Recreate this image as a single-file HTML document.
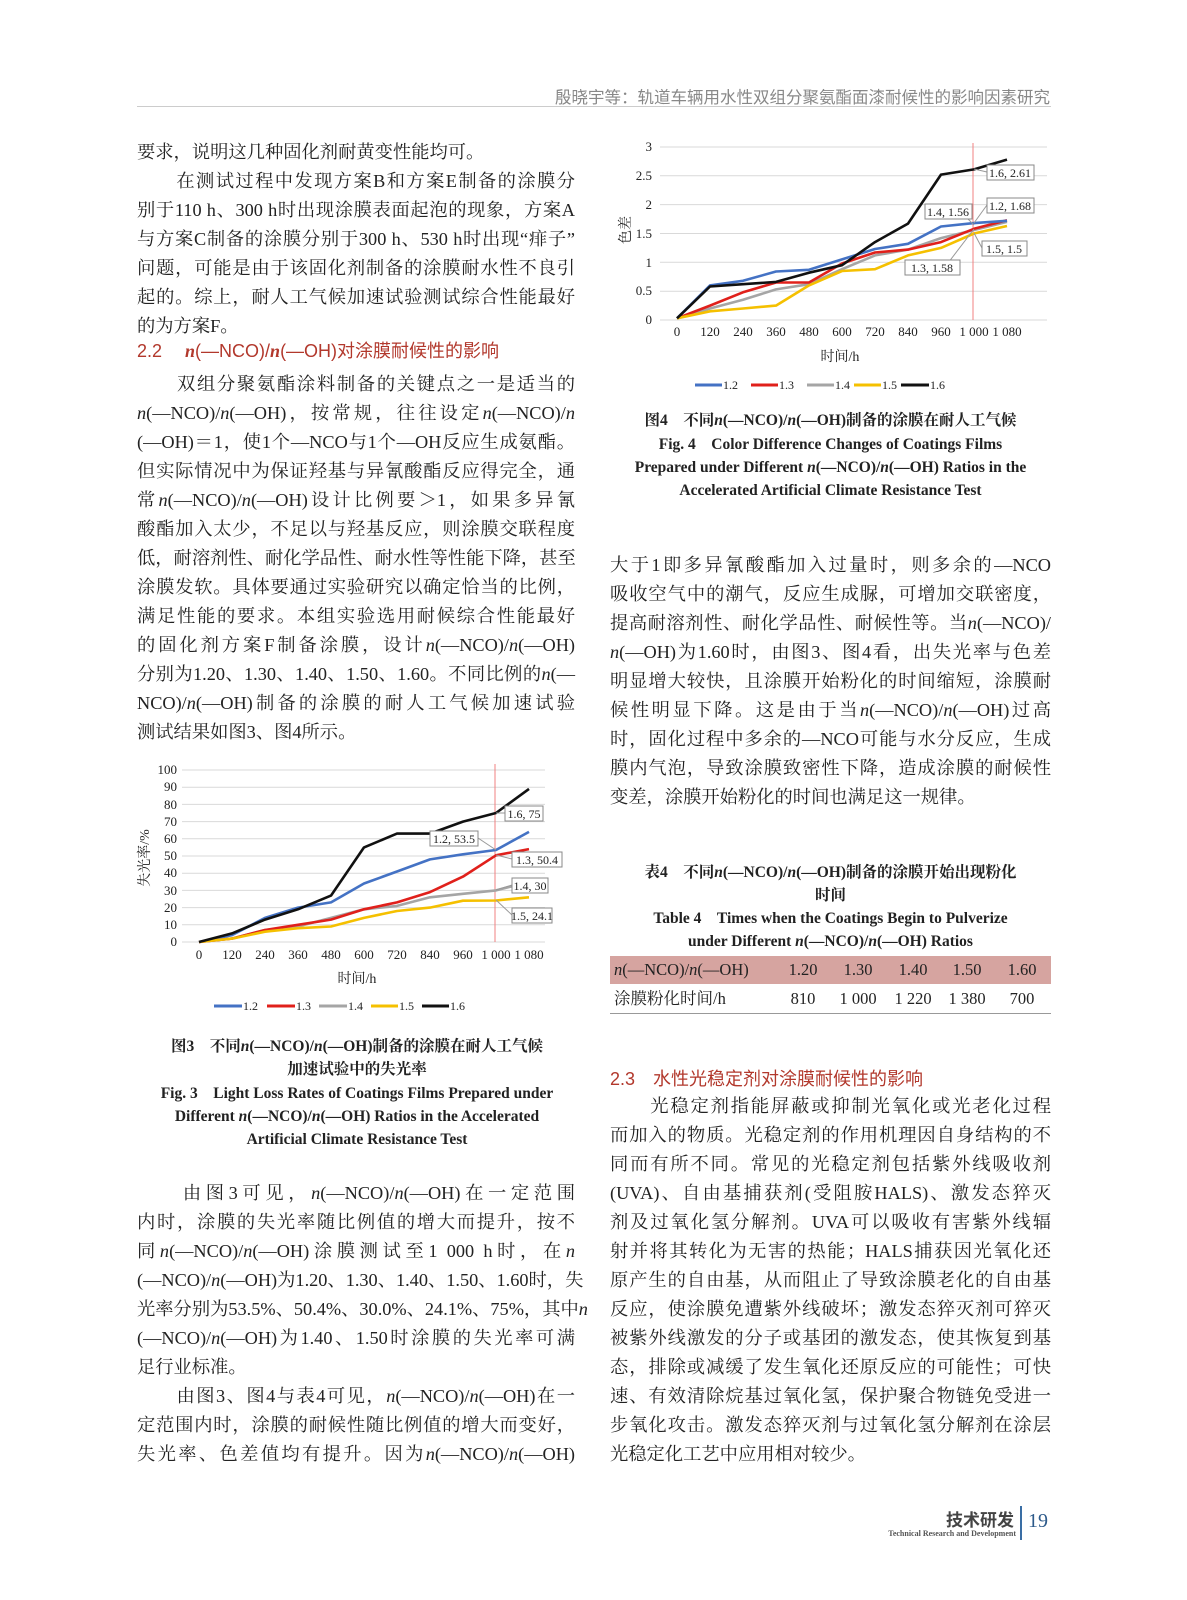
<!DOCTYPE html>
<html><head><meta charset="utf-8">
<style>
html,body{margin:0;padding:0;background:#fff;}
body{width:1187px;height:1600px;position:relative;overflow:hidden;font-family:"Liberation Serif","Noto Serif CJK SC",serif;color:#222;}
.l{position:absolute;height:29px;line-height:29px;font-size:18.3px;white-space:nowrap;text-align:justify;text-align-last:justify;}
.e{text-align-last:left;}
.L{left:137px;width:438px;}
.R{left:610px;width:441px;}
.h{position:absolute;font-family:"Liberation Sans","Noto Sans CJK SC",sans-serif;color:#b2382c;font-size:18px;white-space:nowrap;}
.cap{position:absolute;text-align:center;font-weight:bold;font-size:15.5px;white-space:nowrap;line-height:23px;}
i{font-style:italic;}
svg text{font-family:"Liberation Serif","Noto Serif CJK SC",serif;}
</style></head><body>
<div style="position:absolute;right:137px;top:84px;font-family:'Liberation Sans','Noto Sans CJK SC',sans-serif;font-size:16.5px;color:#888;">殷晓宇等：轨道车辆用水性双组分聚氨酯面漆耐候性的影响因素研究</div>
<div style="position:absolute;left:137px;top:106px;width:914px;height:1px;background:#ccc;"></div>

<!-- left column block 1 -->
<div class="l L e" style="top:138px">要求，说明这几种固化剂耐黄变性能均可。</div>
<div class="l L" style="top:167px">　　在测试过程中发现方案B和方案E制备的涂膜分</div>
<div class="l L" style="top:196px">别于110 h、300 h时出现涂膜表面起泡的现象，方案A</div>
<div class="l L" style="top:225px">与方案C制备的涂膜分别于300 h、530 h时出现“痱子”</div>
<div class="l L" style="top:254px">问题，可能是由于该固化剂制备的涂膜耐水性不良引</div>
<div class="l L" style="top:283px">起的。综上，耐人工气候加速试验测试综合性能最好</div>
<div class="l L e" style="top:312px">的为方案F。</div>
<div class="h" style="left:137px;top:337px;">2.2　 <b><i style="font-family:'Liberation Serif',serif">n</i></b>(—NCO)/<b><i style="font-family:'Liberation Serif',serif">n</i></b>(—OH)对涂膜耐候性的影响</div>
<div class="l L" style="top:370px">　　双组分聚氨酯涂料制备的关键点之一是适当的</div>
<div class="l L" style="top:399px"><i>n</i>(—NCO)/<i>n</i>(—OH)，按常规，往往设定<i>n</i>(—NCO)/<i>n</i></div>
<div class="l L" style="top:428px">(—OH)＝1，使1个—NCO与1个—OH反应生成氨酯。</div>
<div class="l L" style="top:457px">但实际情况中为保证羟基与异氰酸酯反应得完全，通</div>
<div class="l L" style="top:486px">常<i>n</i>(—NCO)/<i>n</i>(—OH)设计比例要＞1，如果多异氰</div>
<div class="l L" style="top:515px">酸酯加入太少，不足以与羟基反应，则涂膜交联程度</div>
<div class="l L" style="top:544px">低，耐溶剂性、耐化学品性、耐水性等性能下降，甚至</div>
<div class="l L" style="top:573px">涂膜发软。具体要通过实验研究以确定恰当的比例，</div>
<div class="l L" style="top:602px">满足性能的要求。本组实验选用耐候综合性能最好</div>
<div class="l L" style="top:631px">的固化剂方案F制备涂膜，设计<i>n</i>(—NCO)/<i>n</i>(—OH)</div>
<div class="l L" style="top:660px">分别为1.20、1.30、1.40、1.50、1.60。不同比例的<i>n</i>(—</div>
<div class="l L" style="top:689px">NCO)/<i>n</i>(—OH)制备的涂膜的耐人工气候加速试验</div>
<div class="l L e" style="top:718px">测试结果如图3、图4所示。</div>

<svg style="position:absolute;left:0;top:0" width="1187" height="1600" viewBox="0 0 1187 1600">
<!-- chart1 -->
<g stroke="#d9d9d9" stroke-width="1">
<line x1="182" y1="942" x2="545" y2="942"/><line x1="182" y1="924.8" x2="545" y2="924.8"/><line x1="182" y1="907.6" x2="545" y2="907.6"/><line x1="182" y1="890.4" x2="545" y2="890.4"/><line x1="182" y1="873.2" x2="545" y2="873.2"/><line x1="182" y1="856" x2="545" y2="856"/><line x1="182" y1="838.8" x2="545" y2="838.8"/><line x1="182" y1="821.6" x2="545" y2="821.6"/><line x1="182" y1="804.4" x2="545" y2="804.4"/><line x1="182" y1="787.2" x2="545" y2="787.2"/><line x1="182" y1="770" x2="545" y2="770"/>
</g>
<g font-size="13" text-anchor="end" fill="#222">
<text x="177" y="946">0</text><text x="177" y="929">10</text><text x="177" y="912">20</text><text x="177" y="895">30</text><text x="177" y="877">40</text><text x="177" y="860">50</text><text x="177" y="843">60</text><text x="177" y="826">70</text><text x="177" y="809">80</text><text x="177" y="791">90</text><text x="177" y="774">100</text>
</g>
<g font-size="13" text-anchor="middle" fill="#222">
<text x="199" y="959">0</text><text x="232" y="959">120</text><text x="265" y="959">240</text><text x="298" y="959">360</text><text x="331" y="959">480</text><text x="364" y="959">600</text><text x="397" y="959">720</text><text x="430" y="959">840</text><text x="463" y="959">960</text><text x="496" y="959">1 000</text><text x="529" y="959">1 080</text>
<text x="357" y="983" font-size="14">时间/h</text>
</g>
<text transform="translate(149,858) rotate(-90)" font-size="14" text-anchor="middle" fill="#222">失光率/%</text>
<line x1="495" y1="764" x2="495" y2="942" stroke="#f08080" stroke-width="1"/>
<g fill="none" stroke-width="2.6" stroke-linejoin="round">
<polyline stroke="#4472c4" points="199,942 232,935.1 265,917.9 298,907.6 331,902.4 364,883.5 397,871.5 430,859.4 463,854.3 496,850 529,831.9"/>
<polyline stroke="#a5a5a5" points="199,942 232,938.6 265,930 298,926.5 331,917.9 364,909.3 397,905.9 430,897.3 463,893.8 496,890.4 529,881.8"/>
<polyline stroke="#e0201b" points="199,942 232,938.6 265,930 298,924.8 331,919.6 364,909.3 397,902.4 430,892.1 463,876.6 496,855.3 529,849.1"/>
<polyline stroke="#f5c000" points="199,942 232,938.6 265,931.7 298,928.2 331,926.5 364,917.9 397,911 430,907.6 463,900.7 496,900.5 529,897.3"/>
<polyline stroke="#111" points="199,942 232,933.4 265,919.6 298,909.3 331,895.6 364,847.4 397,833.6 430,833.6 463,821.6 496,813 529,788.9"/>
</g>
<g stroke="#999" stroke-width="1" fill="none">
<line x1="496" y1="813" x2="505" y2="813"/><line x1="478" y1="838" x2="496" y2="850"/><line x1="496" y1="855" x2="512" y2="859"/><line x1="496" y1="890" x2="512" y2="885"/><line x1="496" y1="900" x2="512" y2="915"/>
</g>
<g stroke="#888" stroke-width="1" fill="#fff">
<rect x="505" y="806" width="38" height="15"/><rect x="430" y="831" width="48" height="15"/><rect x="512" y="852" width="50" height="15"/><rect x="512" y="878" width="36" height="15"/><rect x="512" y="908" width="40" height="15"/>
</g>
<g font-size="12" fill="#222" text-anchor="middle">
<text x="524" y="818">1.6, 75</text><text x="454" y="843">1.2, 53.5</text><text x="537" y="864">1.3, 50.4</text><text x="530" y="890">1.4, 30</text><text x="532" y="920">1.5, 24.1</text>
</g>
<g stroke-width="3">
<line x1="214" y1="1006" x2="242" y2="1006" stroke="#4472c4"/><line x1="267" y1="1006" x2="295" y2="1006" stroke="#e0201b"/><line x1="319" y1="1006" x2="347" y2="1006" stroke="#a5a5a5"/><line x1="371" y1="1006" x2="398" y2="1006" stroke="#f5c000"/><line x1="422" y1="1006" x2="449" y2="1006" stroke="#111"/>
</g>
<g font-size="12" fill="#222">
<text x="243" y="1010">1.2</text><text x="296" y="1010">1.3</text><text x="348" y="1010">1.4</text><text x="399" y="1010">1.5</text><text x="450" y="1010">1.6</text>
</g>

<!-- chart2 -->
<g stroke="#d9d9d9" stroke-width="1">
<line x1="660" y1="320" x2="1047" y2="320"/><line x1="660" y1="291.2" x2="1047" y2="291.2"/><line x1="660" y1="262.3" x2="1047" y2="262.3"/><line x1="660" y1="233.5" x2="1047" y2="233.5"/><line x1="660" y1="204.6" x2="1047" y2="204.6"/><line x1="660" y1="175.8" x2="1047" y2="175.8"/><line x1="660" y1="147" x2="1047" y2="147"/>
</g>
<g font-size="13" text-anchor="end" fill="#222">
<text x="652" y="324">0</text><text x="652" y="295">0.5</text><text x="652" y="267">1</text><text x="652" y="238">1.5</text><text x="652" y="209">2</text><text x="652" y="180">2.5</text><text x="652" y="151">3</text>
</g>
<g font-size="13" text-anchor="middle" fill="#222">
<text x="677" y="336">0</text><text x="710" y="336">120</text><text x="743" y="336">240</text><text x="776" y="336">360</text><text x="809" y="336">480</text><text x="842" y="336">600</text><text x="875" y="336">720</text><text x="908" y="336">840</text><text x="941" y="336">960</text><text x="974" y="336">1 000</text><text x="1007" y="336">1 080</text>
<text x="840" y="361" font-size="14">时间/h</text>
</g>
<text transform="translate(630,230) rotate(-90)" font-size="14" text-anchor="middle" fill="#222">色差</text>
<line x1="973" y1="143" x2="973" y2="320" stroke="#f08080" stroke-width="1"/>
<g fill="none" stroke-width="2.6" stroke-linejoin="round">
<polyline stroke="#a5a5a5" points="677,318.3 710,308.5 743,299.8 776,289.4 809,284.2 842,269.2 875,255.4 908,249.6 941,238.1 974,230 1007,221.9"/>
<polyline stroke="#e0201b" points="677,318.3 710,305.6 743,292.3 776,282.5 809,282.5 842,263.5 875,252.5 908,249.6 941,242.1 974,228.8 1007,220.2"/>
<polyline stroke="#4472c4" points="677,318.3 710,285.4 743,280.8 776,271.5 809,269.8 842,259.4 875,249 908,243.8 941,226.5 974,223.1 1007,220.8"/>
<polyline stroke="#f5c000" points="677,318.3 710,311.3 743,308.5 776,305.6 809,285.4 842,271 875,269.2 908,255.4 941,247.9 974,233.5 1007,226"/>
<polyline stroke="#111" points="677,318.3 710,286.5 743,284.2 776,281.9 809,272.7 842,265.2 875,242.1 908,223.6 941,174.6 974,169.4 1007,159.6"/>
</g>
<g stroke="#999" stroke-width="1" fill="none">
<line x1="974" y1="169" x2="987" y2="172"/><line x1="960" y1="211" x2="974" y2="225"/><line x1="987" y1="205" x2="974" y2="223"/><line x1="974" y1="233" x2="982" y2="248"/><line x1="974" y1="229" x2="945" y2="267"/>
</g>
<g stroke="#888" stroke-width="1" fill="#fff">
<rect x="987" y="165" width="47" height="15"/><rect x="925" y="204" width="47" height="15"/><rect x="987" y="198" width="47" height="15"/><rect x="982" y="241" width="45" height="15"/><rect x="905" y="260" width="55" height="15"/>
</g>
<g font-size="12" fill="#222" text-anchor="middle">
<text x="1010" y="177">1.6, 2.61</text><text x="948" y="216">1.4, 1.56</text><text x="1010" y="210">1.2, 1.68</text><text x="1004" y="253">1.5, 1.5</text><text x="932" y="272">1.3, 1.58</text>
</g>
<g stroke-width="3">
<line x1="695" y1="385" x2="722" y2="385" stroke="#4472c4"/><line x1="751" y1="385" x2="778" y2="385" stroke="#e0201b"/><line x1="807" y1="385" x2="834" y2="385" stroke="#a5a5a5"/><line x1="854" y1="385" x2="881" y2="385" stroke="#f5c000"/><line x1="901" y1="385" x2="929" y2="385" stroke="#111"/>
</g>
<g font-size="12" fill="#222">
<text x="723" y="389">1.2</text><text x="779" y="389">1.3</text><text x="835" y="389">1.4</text><text x="882" y="389">1.5</text><text x="930" y="389">1.6</text>
</g>

<!-- footer bar -->
<line x1="1021" y1="1506" x2="1021" y2="1540" stroke="#3a6ea5" stroke-width="2"/>
</svg>

<!-- fig3 caption -->
<div class="cap" style="left:137px;width:440px;top:1035px">图3　不同<i>n</i>(—NCO)/<i>n</i>(—OH)制备的涂膜在耐人工气候<br>加速试验中的失光率</div>
<div class="cap" style="left:137px;width:440px;top:1082px">Fig. 3　Light Loss Rates of Coatings Films Prepared under<br>Different <i>n</i>(—NCO)/<i>n</i>(—OH) Ratios in the Accelerated<br>Artificial Climate Resistance Test</div>

<!-- left block 2 -->
<div class="l L" style="top:1179px">　　由图3可见，<i>n</i>(—NCO)/<i>n</i>(—OH)在一定范围</div>
<div class="l L" style="top:1208px">内时，涂膜的失光率随比例值的增大而提升，按不</div>
<div class="l L" style="top:1237px">同<i>n</i>(—NCO)/<i>n</i>(—OH)涂膜测试至1 000 h时，在<i>n</i></div>
<div class="l L" style="top:1266px">(—NCO)/<i>n</i>(—OH)为1.20、1.30、1.40、1.50、1.60时，失</div>
<div class="l L" style="top:1295px">光率分别为53.5%、50.4%、30.0%、24.1%、75%，其中<i>n</i></div>
<div class="l L" style="top:1324px">(—NCO)/<i>n</i>(—OH)为1.40、1.50时涂膜的失光率可满</div>
<div class="l L e" style="top:1353px">足行业标准。</div>
<div class="l L" style="top:1382px">　　由图3、图4与表4可见，<i>n</i>(—NCO)/<i>n</i>(—OH)在一</div>
<div class="l L" style="top:1411px">定范围内时，涂膜的耐候性随比例值的增大而变好，</div>
<div class="l L" style="top:1440px">失光率、色差值均有提升。因为<i>n</i>(—NCO)/<i>n</i>(—OH)</div>

<!-- fig4 caption -->
<div class="cap" style="left:610px;width:441px;top:409px">图4　不同<i>n</i>(—NCO)/<i>n</i>(—OH)制备的涂膜在耐人工气候</div>
<div class="cap" style="left:610px;width:441px;top:433px">Fig. 4　Color Difference Changes of Coatings Films<br>Prepared under Different <i>n</i>(—NCO)/<i>n</i>(—OH) Ratios in the<br>Accelerated Artificial Climate Resistance Test</div>

<!-- right block 1 -->
<div class="l R" style="top:551px">大于1即多异氰酸酯加入过量时，则多余的—NCO</div>
<div class="l R" style="top:580px">吸收空气中的潮气，反应生成脲，可增加交联密度，</div>
<div class="l R" style="top:609px">提高耐溶剂性、耐化学品性、耐候性等。当<i>n</i>(—NCO)/</div>
<div class="l R" style="top:638px"><i>n</i>(—OH)为1.60时，由图3、图4看，出失光率与色差</div>
<div class="l R" style="top:667px">明显增大较快，且涂膜开始粉化的时间缩短，涂膜耐</div>
<div class="l R" style="top:696px">候性明显下降。这是由于当<i>n</i>(—NCO)/<i>n</i>(—OH)过高</div>
<div class="l R" style="top:725px">时，固化过程中多余的—NCO可能与水分反应，生成</div>
<div class="l R" style="top:754px">膜内气泡，导致涂膜致密性下降，造成涂膜的耐候性</div>
<div class="l R e" style="top:783px">变差，涂膜开始粉化的时间也满足这一规律。</div>

<!-- table 4 -->
<div class="cap" style="left:610px;width:441px;top:861px">表4　不同<i>n</i>(—NCO)/<i>n</i>(—OH)制备的涂膜开始出现粉化<br>时间</div>
<div class="cap" style="left:610px;width:441px;top:907px">Table 4　Times when the Coatings Begin to Pulverize<br>under Different <i>n</i>(—NCO)/<i>n</i>(—OH) Ratios</div>
<div style="position:absolute;left:610px;top:956px;width:441px;height:28px;background:#d6a4a0;"></div>
<div style="position:absolute;left:610px;top:1013px;width:441px;height:1px;background:#999;"></div>
<div style="position:absolute;left:614px;top:956px;line-height:28px;font-size:16.5px;white-space:nowrap;"><i>n</i>(—NCO)/<i>n</i>(—OH)</div>
<div style="position:absolute;left:614px;top:985px;line-height:28px;font-size:16.5px;white-space:nowrap;">涂膜粉化时间/h</div>
<div style="position:absolute;left:0;top:956px;line-height:28px;font-size:16.5px;">
<span style="position:absolute;left:780px;width:46px;text-align:center">1.20</span><span style="position:absolute;left:835px;width:46px;text-align:center">1.30</span><span style="position:absolute;left:890px;width:46px;text-align:center">1.40</span><span style="position:absolute;left:944px;width:46px;text-align:center">1.50</span><span style="position:absolute;left:999px;width:46px;text-align:center">1.60</span></div>
<div style="position:absolute;left:0;top:985px;line-height:28px;font-size:16.5px;white-space:nowrap;">
<span style="position:absolute;left:780px;width:46px;text-align:center">810</span><span style="position:absolute;left:830px;width:56px;text-align:center">1 000</span><span style="position:absolute;left:885px;width:56px;text-align:center">1 220</span><span style="position:absolute;left:939px;width:56px;text-align:center">1 380</span><span style="position:absolute;left:999px;width:46px;text-align:center">700</span></div>

<div class="h" style="left:610px;top:1065px;">2.3　水性光稳定剂对涂膜耐候性的影响</div>
<div class="l R" style="top:1092px">　　光稳定剂指能屏蔽或抑制光氧化或光老化过程</div>
<div class="l R" style="top:1121px">而加入的物质。光稳定剂的作用机理因自身结构的不</div>
<div class="l R" style="top:1150px">同而有所不同。常见的光稳定剂包括紫外线吸收剂</div>
<div class="l R" style="top:1179px">(UVA)、自由基捕获剂(受阻胺HALS)、激发态猝灭</div>
<div class="l R" style="top:1208px">剂及过氧化氢分解剂。UVA可以吸收有害紫外线辐</div>
<div class="l R" style="top:1237px">射并将其转化为无害的热能；HALS捕获因光氧化还</div>
<div class="l R" style="top:1266px">原产生的自由基，从而阻止了导致涂膜老化的自由基</div>
<div class="l R" style="top:1295px">反应，使涂膜免遭紫外线破坏；激发态猝灭剂可猝灭</div>
<div class="l R" style="top:1324px">被紫外线激发的分子或基团的激发态，使其恢复到基</div>
<div class="l R" style="top:1353px">态，排除或减缓了发生氧化还原反应的可能性；可快</div>
<div class="l R" style="top:1382px">速、有效清除烷基过氧化氢，保护聚合物链免受进一</div>
<div class="l R" style="top:1411px">步氧化攻击。激发态猝灭剂与过氧化氢分解剂在涂层</div>
<div class="l R e" style="top:1440px">光稳定化工艺中应用相对较少。</div>

<!-- footer -->
<div style="position:absolute;left:946px;top:1506px;font-family:'Liberation Sans','Noto Sans CJK SC',sans-serif;font-weight:bold;font-size:17px;color:#444;">技术研发</div>
<div style="position:absolute;left:858px;top:1529px;width:158px;text-align:right;font-size:8px;font-weight:bold;color:#555;white-space:nowrap;">Technical Research and Development</div>
<div style="position:absolute;left:1028px;top:1510px;font-size:20px;color:#2d5a8a;">19</div>
</body></html>
